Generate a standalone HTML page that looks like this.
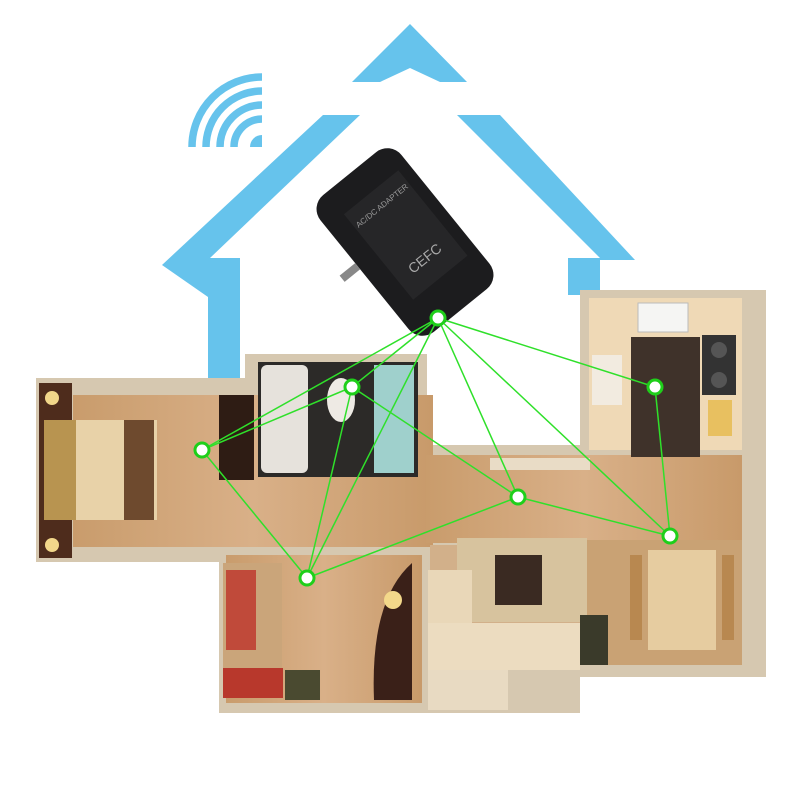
<!DOCTYPE html>
<html><head><meta charset="utf-8"><style>html,body{margin:0;padding:0;background:#fff}svg{display:block}</style></head>
<body>
<svg width="801" height="801" viewBox="0 0 801 801" xmlns="http://www.w3.org/2000/svg">
<defs>
<linearGradient id="wood" x1="0" y1="0" x2="1" y2="0">
<stop offset="0" stop-color="#c99c6c"/><stop offset="0.5" stop-color="#d9b088"/><stop offset="1" stop-color="#c89a6a"/></linearGradient>
</defs>
<!-- house outline -->
<g fill="#66c3ec">
<polygon points="410,24 467,82 440,82 410,68 380,82 352,82"/>
<polygon points="323,115 360,115 210,258 240,258 240,380 208,380 208,297 162,265"/>
<polygon points="457,115 500,115 635,260 600,260 600,295 568,295 568,258 600,258"/>
</g>
<!-- wifi -->
<g fill="none" stroke="#66c3ec" stroke-width="7.5">
<path d="M192,147 A70,70 0 0 1 262,77"/>
<path d="M206,147 A56,56 0 0 1 262,91"/>
<path d="M220,147 A42,42 0 0 1 262,105"/>
<path d="M234,147 A28,28 0 0 1 262,119"/>
</g>
<path d="M250,147 A12,12 0 0 1 262,135 L262,147Z" fill="#66c3ec"/>
<!-- floor plan walls -->
<g fill="#d6c8b0">
<rect x="36" y="378" width="220" height="184"/>
<rect x="245" y="354" width="182" height="130"/>
<rect x="420" y="445" width="346" height="232"/>
<rect x="580" y="290" width="186" height="170"/>
<rect x="219" y="540" width="210" height="173"/>
<rect x="426" y="540" width="154" height="173"/>
</g>
<!-- wood floors -->
<rect x="73" y="395" width="360" height="152" fill="url(#wood)"/>
<rect x="426" y="455" width="316" height="88" fill="url(#wood)"/>
<rect x="226" y="555" width="196" height="148" fill="url(#wood)"/>
<rect x="580" y="540" width="162" height="125" fill="#c9a274"/>
<rect x="430" y="545" width="150" height="85" fill="#d2b08a"/>
<!-- bedroom -->
<rect x="39" y="383" width="33" height="175" fill="#4e2c1c"/>
<circle cx="52" cy="398" r="7" fill="#f2d78a"/><circle cx="52" cy="545" r="7" fill="#f2d78a"/>
<rect x="44" y="420" width="113" height="100" fill="#e8d2a8"/>
<rect x="44" y="420" width="32" height="100" fill="#b89450"/>
<rect x="124" y="420" width="30" height="100" fill="#6e4a2e"/>
<rect x="219" y="395" width="35" height="85" fill="#2e1c14"/>
<!-- bath -->
<rect x="258" y="362" width="160" height="115" fill="#2c2a28"/>
<rect x="261" y="365" width="47" height="108" fill="#e6e2dc" rx="6"/>
<rect x="374" y="365" width="40" height="108" fill="#9fd0cc"/>
<ellipse cx="341" cy="400" rx="14" ry="22" fill="#eeeae4"/>
<!-- kitchen -->
<rect x="589" y="298" width="153" height="152" fill="#efd9b6"/>
<rect x="631" y="337" width="69" height="120" fill="#3f322a"/>
<rect x="702" y="335" width="34" height="60" fill="#333"/>
<circle cx="719" cy="350" r="8" fill="#555"/><circle cx="719" cy="380" r="8" fill="#555"/>
<rect x="638" y="303" width="50" height="29" fill="#f5f5f3" stroke="#bbb"/>
<rect x="592" y="355" width="30" height="50" fill="#f2ebe0"/>
<rect x="708" y="400" width="24" height="36" fill="#e8c060"/>
<!-- hallway counter -->
<rect x="490" y="458" width="100" height="12" fill="#e9dcc6"/>
<!-- living -->
<rect x="457" y="538" width="130" height="84" fill="#d7c39e"/>
<rect x="495" y="555" width="47" height="50" fill="#3a2a22"/>
<rect x="428" y="570" width="44" height="60" fill="#e9d7b8"/>
<rect x="428" y="623" width="152" height="47" fill="#ecdcc0"/>
<rect x="580" y="615" width="28" height="50" fill="#3a3a2a"/>
<rect x="428" y="670" width="80" height="40" fill="#e8dac2"/>
<!-- dining -->
<rect x="648" y="550" width="68" height="100" fill="#e6cca0"/>
<rect x="630" y="555" width="12" height="85" fill="#b88850"/><rect x="722" y="555" width="12" height="85" fill="#b88850"/>
<!-- study -->
<rect x="223" y="563" width="59" height="130" fill="#caa57a"/>
<rect x="223" y="668" width="60" height="30" fill="#b8382c"/>
<rect x="226" y="570" width="30" height="80" fill="#c04a3a"/>
<path d="M412,563 Q370,600 374,700 L412,700Z" fill="#3a2018"/>
<circle cx="393" cy="600" r="9" fill="#f3d88a"/>
<rect x="285" y="670" width="35" height="30" fill="#4a4a30"/>
<!-- adapter -->
<g transform="translate(405,242) rotate(-39)">
<rect x="-52" y="-88" width="104" height="176" rx="18" fill="#1c1c1e"/>
<rect x="-30" y="-60" width="70" height="110" fill="#262628"/>
<text x="5" y="-40" font-family="Liberation Sans, sans-serif" font-size="8" fill="#999" text-anchor="middle">AC/DC ADAPTER</text>
<text x="5" y="30" font-family="Liberation Sans, sans-serif" font-size="14" fill="#aaa" text-anchor="middle">CEFC</text>
<rect x="-72" y="-15" width="20" height="8" fill="#888"/>
</g>
<!-- links -->
<g stroke="#2fe02a" stroke-width="1.5" fill="none">
<line x1="438" y1="318" x2="202" y2="450"/>
<line x1="438" y1="318" x2="352" y2="387"/>
<line x1="438" y1="318" x2="307" y2="578"/>
<line x1="438" y1="318" x2="518" y2="497"/>
<line x1="438" y1="318" x2="670" y2="536"/>
<line x1="438" y1="318" x2="655" y2="387"/>
<line x1="352" y1="387" x2="202" y2="450"/>
<line x1="352" y1="387" x2="307" y2="578"/>
<line x1="352" y1="387" x2="518" y2="497"/>
<line x1="202" y1="450" x2="307" y2="578"/>
<line x1="307" y1="578" x2="518" y2="497"/>
<line x1="518" y1="497" x2="670" y2="536"/>
<line x1="655" y1="387" x2="670" y2="536"/>
</g>
<g fill="#fff" stroke="#1fcf1a" stroke-width="3">
<circle cx="438" cy="318" r="7"/><circle cx="352" cy="387" r="7"/><circle cx="202" cy="450" r="7"/>
<circle cx="655" cy="387" r="7"/><circle cx="518" cy="497" r="7"/><circle cx="670" cy="536" r="7"/><circle cx="307" cy="578" r="7"/>
</g>
</svg>
</body></html>
